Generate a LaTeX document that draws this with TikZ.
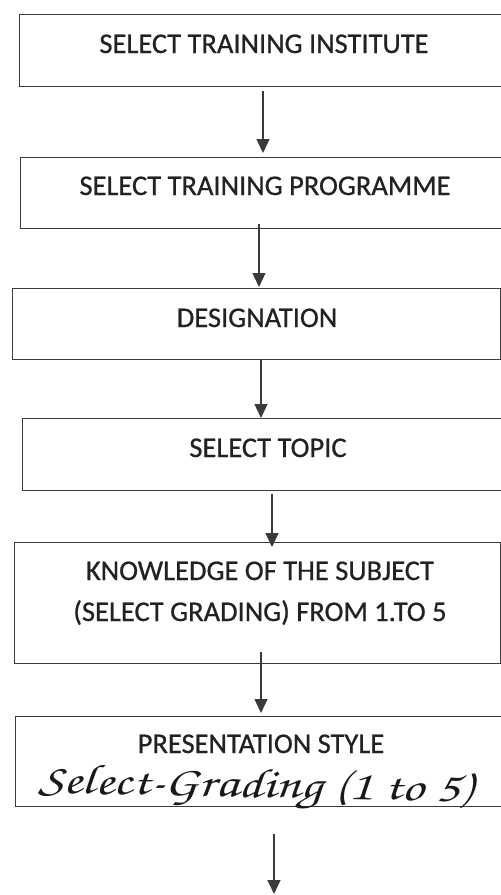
\documentclass[tikz,border=0pt]{standalone}
\usepackage{fontspec}
\setmainfont{Carlito}
\newfontfamily\capfont{Carlito}[FakeBold=0.7]
\usetikzlibrary{arrows.meta}
\definecolor{ink}{HTML}{222222}
\definecolor{rule}{HTML}{3A3A3A}
\begin{document}
\begin{tikzpicture}[x=1pt,y=-1pt,
  box/.style={draw=rule, line width=1.3pt, inner sep=0pt, anchor=north west},
  caption/.style={inner sep=0pt, anchor=base, text=ink, font=\capfont\fontsize{28.5}{34}\selectfont},
  flow/.style={draw=rule, line width=1.3pt, -{Triangle[width=13pt,length=14pt]}},
  hand/.style={inner sep=0pt, anchor=base west, text=black!90, xscale=1.3,
    font=\usefont{OT1}{pzc}{m}{it}\fontsize{42}{46}\selectfont}]
\useasboundingbox[fill=white] (0,0) rectangle (501,895);

% process boxes (most run on past the right margin)
\node[box, minimum width=491pt, minimum height=72pt]  (b1) at (19,14)  {};
\node[box, minimum width=490pt, minimum height=71pt]  (b2) at (20,157) {};
\node[box, minimum width=487.5pt, minimum height=71pt] (b3) at (12,288) {};
\node[box, minimum width=490pt, minimum height=72pt]  (b4) at (22,418) {};
\node[box, minimum width=485.5pt, minimum height=121pt] (b5) at (14,542) {};
\node[box, minimum width=495pt, minimum height=90pt]  (b6) at (15,716) {};

% box captions
\node[caption] (t1) at (264,53)  {SELECT TRAINING INSTITUTE};
\node[caption] (t2) at (265,195) {SELECT TRAINING PROGRAMME};
\node[caption] (t3) at (257,327) {DESIGNATION};
\node[caption] (t4) at (268,457) {SELECT TOPIC};
\node[caption] (t5a) at (260,580) {KNOWLEDGE OF THE SUBJECT};
\node[caption] (t5b) at (260,621) {(SELECT GRADING) FROM 1.TO 5};
\node[caption] (t6) at (261,753) {PRESENTATION STYLE};
\node[hand, rotate=-1.5] (h6) at (38,793) {Select-Grading (1 to 5)};

% arrow columns
\coordinate (x1) at (263,0);
\coordinate (x2) at (259,0);
\coordinate (x3) at (261,0);
\coordinate (x4) at (272,0);
\coordinate (x5) at (261,0);
\coordinate (out) at (274,894);

\draw[flow, shorten <=4pt, shorten >=4pt]   (b1.south -| x1) -- (b2.north -| x1);
\draw[flow, shorten <=-5pt, shorten >=1pt]  (b2.south -| x2) -- (b3.north -| x2);
\draw[flow]                                 (b3.south -| x3) -- (b4.north -| x3);
\draw[flow, shorten <=3pt, shorten >=-5pt]  (b4.south -| x4) -- (b5.north -| x4);
\draw[flow, shorten <=-12pt, shorten >=3pt] (b5.south -| x5) -- (b6.north -| x5);
\draw[flow, shorten <=27pt]                 (b6.south -| out) -- (out);
\end{tikzpicture}
\end{document}
